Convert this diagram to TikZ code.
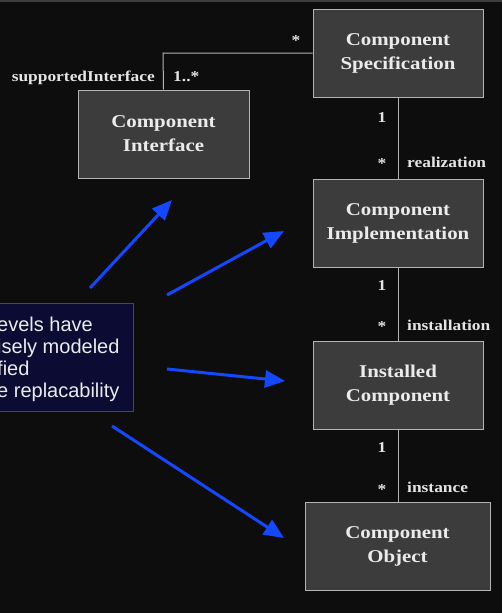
\documentclass[tikz,border=0pt]{standalone}
\usepackage{fontspec}
\setmainfont{Liberation Serif}
\newfontfamily\widefont[FakeStretch=1.16]{Liberation Serif}
\newfontfamily\calloutfont{Liberation Sans}
\usetikzlibrary{arrows.meta}
\definecolor{bgc}{HTML}{0D0D0D}
\definecolor{boxfill}{HTML}{3C3C3C}
\definecolor{boxline}{HTML}{B4B4B4}
\definecolor{arrowblue}{HTML}{1448FF}
\definecolor{calloutfill}{HTML}{0B0B33}
\definecolor{calloutline}{HTML}{1E46C8}
\tikzset{
  classbox/.style={draw=boxline, fill=boxfill, line width=1pt, text=white!92!black,
    font=\widefont\bfseries\fontsize{18}{24}\selectfont, align=center, inner sep=0pt},
  lbl/.style={text=white!90!black, font=\widefont\bfseries\fontsize{15}{18}\selectfont, inner sep=0pt},
  assoc/.style={draw=boxline, line width=1pt},
  pointer/.style={draw=arrowblue, line width=3pt, -{Triangle[length=20pt,width=17pt]}},
}
\begin{document}
\begin{tikzpicture}[x=1pt,y=-1pt]
\useasboundingbox (0,0) rectangle (501,613);
\fill[bgc] (-5,-5) rectangle (506,618);
\draw[white!20!bgc, line width=1.5pt] (-5,0.75) -- (506,0.75);
\begin{scope}
\clip (0,0) rectangle (501,613);
% callout
\node[draw=calloutline, fill=calloutfill, line width=1pt, minimum width=150pt, minimum height=108pt, inner sep=0pt, anchor=north east] (callout) at (134,303) {};
\node[anchor=north west, align=left, text=white!92!black, font=\calloutfont\fontsize{20}{22}\selectfont, inner sep=0pt] (callouttext) at (-3,317)
 {evels have\\isely modeled\\fied\\e replacability};
\end{scope}
% boxes
\node[classbox, minimum width=170pt, minimum height=88pt] (spec) at (398,53) {Component\\Specification};
\node[classbox, minimum width=171pt, minimum height=88pt] (iface) at (163.5,134) {Component\\Interface};
\node[classbox, minimum width=170pt, minimum height=88pt] (impl) at (398,223) {Component\\Implementation};
\node[classbox, minimum width=170pt, minimum height=88pt] (inst) at (398,385) {Installed\\Component};
\node[classbox, minimum width=185pt, minimum height=88pt] (obj) at (397.5,546) {Component\\Object};
% associations
\coordinate (bend) at (163,53);
\draw[assoc] (iface.north) -- (bend) -- (spec.west);
\draw[assoc] (spec.south) -- (impl.north);
\draw[assoc] (impl.south) -- (inst.north);
\draw[assoc] (inst.south) -- (obj.north -| inst.south);
% labels
\node[lbl, anchor=base] (m1) at (296,45) {*};
\node[lbl, anchor=base west] (m2) at (173,81) {1..*};
\node[lbl, anchor=base east] (r1) at (155,81) {supportedInterface};
\node[lbl, anchor=base] (m3) at (382,122) {1};
\node[lbl, anchor=base] (m4) at (382,168) {*};
\node[lbl, anchor=base west] (r2) at (407,167) {realization};
\node[lbl, anchor=base] (m5) at (382,290) {1};
\node[lbl, anchor=base] (m6) at (382,331) {*};
\node[lbl, anchor=base west] (r3) at (407,330) {installation};
\node[lbl, anchor=base] (m7) at (382,452) {1};
\node[lbl, anchor=base] (m8) at (382,494) {*};
\node[lbl, anchor=base west] (r4) at (407,492) {instance};
% pointers
\coordinate (t1) at (90,288); \coordinate (h1) at (172,200);
\coordinate (t2) at (167,295); \coordinate (h2) at (284,231);
\coordinate (t3) at (167,369); \coordinate (h3) at (285,381);
\coordinate (t4) at (112,426); \coordinate (h4) at (284,538);
\draw[pointer] (t1) -- (h1);
\draw[pointer] (t2) -- (h2);
\draw[pointer] (t3) -- (h3);
\draw[pointer] (t4) -- (h4);
\end{tikzpicture}
\end{document}
